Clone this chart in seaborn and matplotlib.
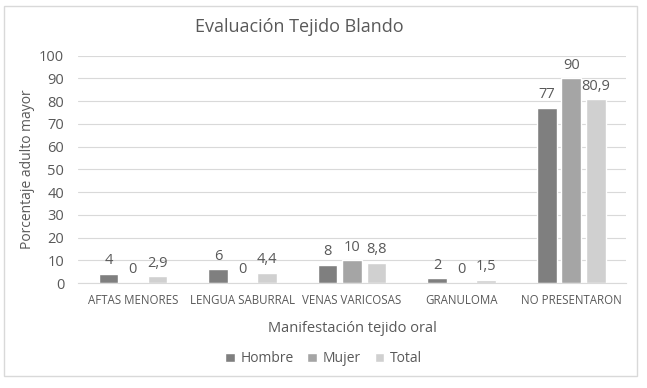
import pandas as pd
import numpy as np
import seaborn as sns
import matplotlib.pyplot as plt

# data
categorias = ['AFTAS MENORES', 'LENGUA SABURRAL', 'VENAS VARICOSAS', 'GRANULOMA', 'NO PRESENTARON']
hombre = [4, 6, 8, 2, 77]
mujer = [0, 0, 10, 0, 90]
total = [2.9, 4.4, 8.8, 1.5, 80.9]
series = ['Hombre', 'Mujer', 'Total']
colores = ['#7f7f7f', '#a5a5a5', '#d0d0d0']

data = pd.DataFrame({
    'Manifestacion': categorias * 3,
    'Grupo': [s for s in series for _ in categorias],
    'Valor': hombre + mujer + total,
})

sns.set_style('white')
plt.rcParams['font.family'] = ['Open Sans', 'DejaVu Sans']
txt = '#595959'

fig = plt.figure(figsize=(6.47, 3.88), dpi=100)
ax = fig.add_axes([0.1206, 0.2706, 0.847, 0.586])

sns.barplot(x='Manifestacion', y='Valor', hue='Grupo', data=data, palette=colores,
            width=0.67, gap=0.2, ax=ax, saturation=1, legend=True)

ax.set_ylim(0, 100)
ax.set_yticks(range(0, 101, 10))
ax.yaxis.grid(True, color='#d9d9d9', linewidth=0.8)
ax.set_axisbelow(True)
for s in ['top', 'right', 'left']:
    ax.spines[s].set_visible(False)
ax.spines['bottom'].set_color('#d9d9d9')
ax.tick_params(axis='both', length=0, colors=txt)
ax.tick_params(axis='y', labelsize=10.5, pad=10)
ax.tick_params(axis='x', labelsize=8.3, pad=8)

for cont in ax.containers:
    labels = [('%g' % b.get_height()).replace('.', ',') for b in cont]
    ax.bar_label(cont, labels=labels, padding=4, fontsize=10.5, color=txt)

ax.set_xlabel('Manifestación tejido oral', fontsize=10.5, color=txt, labelpad=10)
ax.set_ylabel('')
fig.text(0.042, 0.564, 'Porcentaje adulto mayor', fontsize=10, color=txt,
         rotation=90, ha='center', va='center')
fig.text(0.462, 0.93, 'Evaluación Tejido Blando', fontsize=13, color=txt, ha='center', va='center')

ax.legend(loc='center', bbox_to_anchor=(0.5, 0.075), bbox_transform=fig.transFigure,
          ncol=3, frameon=False, fontsize=10, labelcolor=txt, handlelength=0.7,
          handleheight=0.7, handletextpad=0.4, columnspacing=1.0)

fig.patches.append(plt.Rectangle((0.006, 0.031), 0.979, 0.954, transform=fig.transFigure,
                                 fill=False, edgecolor='#d9d9d9', linewidth=1))

fig.savefig('out.png', dpi=100)
